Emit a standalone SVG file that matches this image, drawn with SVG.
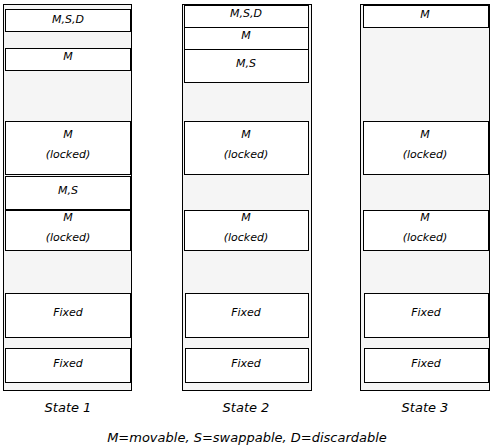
<svg xmlns="http://www.w3.org/2000/svg" width="492" height="448" viewBox="0 0 492 448">
<style>
.col{fill:#f5f5f5;stroke:#000;stroke-width:1}
.box{fill:#fff;stroke:#000;stroke-width:1}
.t{font-family:"DejaVu Sans",Verdana,sans-serif;font-style:italic;font-size:11px;text-anchor:middle;fill:#000}
.lbl{font-family:"DejaVu Sans",Verdana,sans-serif;font-style:italic;font-size:13px;text-anchor:middle;fill:#000}
</style>
<rect width="492" height="448" fill="#fff"/>
<g id="state1">
<rect class="col" x="3.5" y="4.5" width="128" height="386"/>
<g id="s1-msd"><rect class="box" x="5.5" y="9.5" width="125" height="22"/><text class="t" x="68" y="23">M,S,D</text></g>
<g id="s1-m"><rect class="box" x="5.5" y="48.5" width="125" height="22"/><text class="t" x="68" y="60">M</text></g>
<g id="s1-ml1"><rect class="box" x="5.5" y="121.5" width="125" height="53"/><text class="t" x="68" y="138">M</text><text class="t" x="68" y="158">(locked)</text></g>
<g id="s1-ms"><rect class="box" x="5.5" y="176.5" width="125" height="33"/><text class="t" x="68" y="194">M,S</text></g>
<g id="s1-ml2"><rect class="box" x="5.5" y="210.5" width="125" height="40"/><text class="t" x="68" y="221">M</text><text class="t" x="68" y="241">(locked)</text></g>
<g id="s1-f1"><rect class="box" x="5.5" y="293.5" width="125" height="44"/><text class="t" x="68" y="316">Fixed</text></g>
<g id="s1-f2"><rect class="box" x="5.5" y="348.5" width="125" height="34"/><text class="t" x="68" y="367">Fixed</text></g>
<text class="lbl" x="68" y="412">State 1</text>
</g>
<g id="state2">
<rect class="col" x="182.5" y="4.5" width="129" height="386"/>
<g id="s2-msd"><rect class="box" x="184.5" y="5.5" width="124" height="22"/><text class="t" x="246" y="17">M,S,D</text></g>
<g id="s2-m"><rect class="box" x="184.5" y="27.5" width="124" height="22"/><text class="t" x="246" y="39">M</text></g>
<g id="s2-ms"><rect class="box" x="184.5" y="49.5" width="124" height="33"/><text class="t" x="246" y="67">M,S</text></g>
<g id="s2-ml1"><rect class="box" x="184.5" y="121.5" width="124" height="53"/><text class="t" x="246" y="138">M</text><text class="t" x="246" y="158">(locked)</text></g>
<g id="s2-ml2"><rect class="box" x="184.5" y="210.5" width="124" height="40"/><text class="t" x="246" y="221">M</text><text class="t" x="246" y="241">(locked)</text></g>
<g id="s2-f1"><rect class="box" x="185.5" y="293.5" width="123" height="44"/><text class="t" x="246" y="316">Fixed</text></g>
<g id="s2-f2"><rect class="box" x="185.5" y="348.5" width="123" height="34"/><text class="t" x="246" y="367">Fixed</text></g>
<text class="lbl" x="246" y="412">State 2</text>
</g>
<g id="state3">
<rect class="col" x="360.5" y="4.5" width="129" height="386"/>
<g id="s3-m"><rect class="box" x="363.5" y="5.5" width="125" height="22"/><text class="t" x="425" y="18">M</text></g>
<g id="s3-ml1"><rect class="box" x="363.5" y="121.5" width="125" height="53"/><text class="t" x="425" y="138">M</text><text class="t" x="425" y="158">(locked)</text></g>
<g id="s3-ml2"><rect class="box" x="363.5" y="210.5" width="125" height="40"/><text class="t" x="425" y="221">M</text><text class="t" x="425" y="241">(locked)</text></g>
<g id="s3-f1"><rect class="box" x="364.5" y="293.5" width="124" height="44"/><text class="t" x="426" y="316">Fixed</text></g>
<g id="s3-f2"><rect class="box" x="364.5" y="348.5" width="124" height="34"/><text class="t" x="426" y="367">Fixed</text></g>
<text class="lbl" x="425" y="412">State 3</text>
</g>
<g id="connectors"></g>
<text id="legend" class="lbl" x="247" y="442">M=movable, S=swappable, D=discardable</text>
</svg>
